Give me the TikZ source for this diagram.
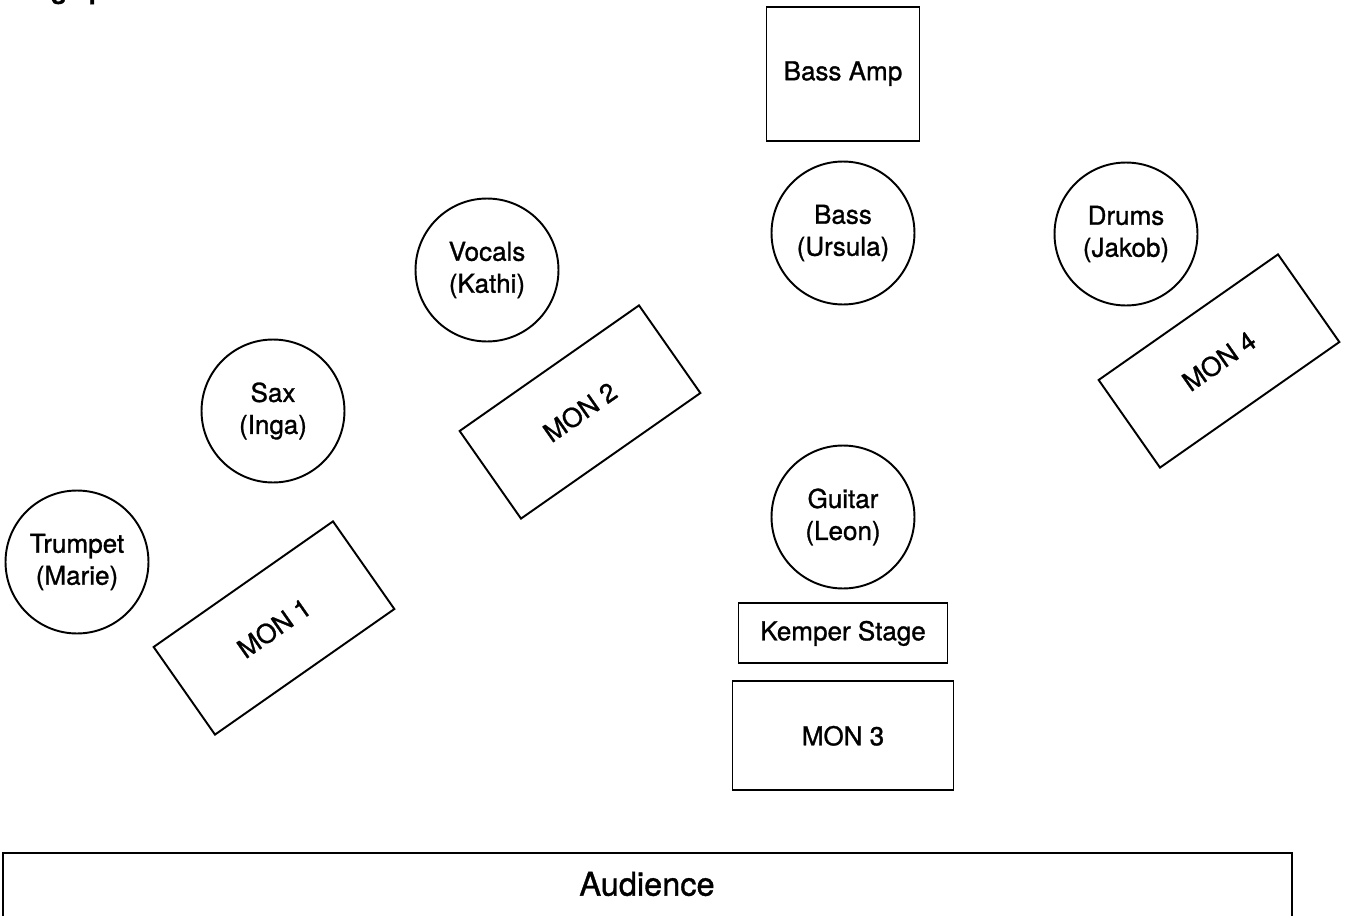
\documentclass[tikz,border=0pt]{standalone}
\usepackage{fontspec}
\setmainfont{TeX Gyre Heros}[FakeBold=1.1]
\usetikzlibrary{positioning}

\begin{document}
\begin{tikzpicture}[x=0.02cm,y=-0.02cm,
		player/.style={draw,circle,line width=1.1pt,minimum size=2.86cm,inner sep=0pt,align=center,font=\fontsize{14.8}{18.2}\selectfont},
		monbox/.style={draw,line width=1.1pt,minimum width=4.38cm,minimum height=2.14cm,inner sep=0pt,rotate=35,font=\fontsize{14.8}{18.2}\selectfont},
		gearbox/.style={draw,line width=1.1pt,inner sep=0pt,font=\fontsize{14.8}{18.2}\selectfont}]
	\useasboundingbox (0,0) rectangle (1347,916);
	% title, cut off at the top
	\node[anchor=base west,inner sep=0pt,font=\bfseries\fontsize{14.8}{18}\selectfont] (title) at (10,-1.5) {Stage plan};
	% musicians
	\node[player] (trumpet) at (77,562) {Trumpet\\(Marie)};
	\node[player] (sax) at (273,411) {Sax\\(Inga)};
	\node[player] (vocals) at (487,270) {Vocals\\(Kathi)};
	\node[player] (bass) at (843,233) {Bass\\(Ursula)};
	\node[player] (drums) at (1126,234) {Drums\\(Jakob)};
	\node[player] (guitar) at (843,517) {Guitar\\(Leon)};
	% monitors
	\node[monbox] (mon1) at (274,628) {MON 1};
	\node[monbox] (mon2) at (580,412) {MON 2};
	\node[monbox] (mon4) at (1219,361) {MON 4};
	% amps
	\node[gearbox,minimum width=3.06cm,minimum height=2.68cm,above=0.38cm of bass] (bassamp) {Bass Amp};
	\node[gearbox,minimum width=4.18cm,minimum height=1.2cm,below=0.26cm of guitar] (kemper) {Kemper Stage};
	\node[gearbox,minimum width=4.42cm,minimum height=2.18cm,below=0.32cm of kemper] (mon3) {MON 3};
	% audience
	\draw[line width=1.1pt] (3,940) |- (1292,853) -- (1292,940);
	\node[font=\fontsize{18.5}{22}\selectfont] (audience) at (647,884) {Audience};
\end{tikzpicture}
\end{document}
